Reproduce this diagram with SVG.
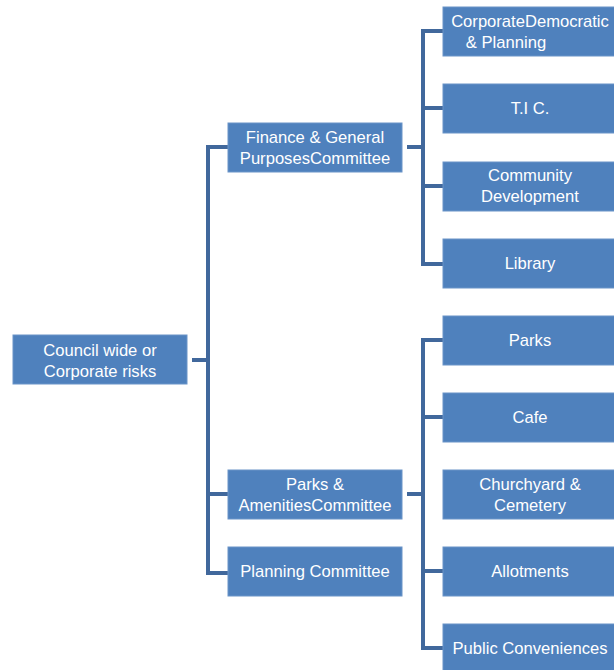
<svg xmlns="http://www.w3.org/2000/svg" width="614" height="670" viewBox="0 0 614 670">
<style>
.box{fill:#4F81BD;stroke:#6A94C8;stroke-width:1}
.t{font-family:"Liberation Sans",Arial,sans-serif;font-size:16.6px;fill:#FFFFFF;text-anchor:middle}
.c{fill:none;stroke:#41689C;stroke-width:4;stroke-linejoin:miter}
</style>
<rect width="614" height="670" fill="#FFFFFF"/>
<g id="connectors">
<path class="c" d="M192 360H208M228 147H208V573H228M208 494H228"/>
<path class="c" d="M407 147H423M443 31H423V264H443M423 108H443M423 186H443"/>
<path class="c" d="M407 494H423M443 340H423V648H443M423 417H443M423 571H443"/>
</g>
<g id="root"><rect class="box" x="13" y="335" width="174" height="49"/><text class="t" x="100" y="356">Council wide or</text><text class="t" x="100" y="377">Corporate risks</text></g>
<g id="finance"><rect class="box" x="228" y="123" width="174" height="49"/><text class="t" x="315" y="143">Finance &amp; General</text><text class="t" x="315" y="164">PurposesCommittee</text></g>
<g id="parks-amenities"><rect class="box" x="228" y="470" width="174" height="49"/><text class="t" x="315" y="490">Parks &amp;</text><text class="t" x="315" y="511">AmenitiesCommittee</text></g>
<g id="planning"><rect class="box" x="228" y="547" width="174" height="49"/><text class="t" x="315" y="577">Planning Committee</text></g>
<g id="corporate"><rect class="box" x="443" y="7" width="174" height="49"/><text class="t" x="530" y="27">CorporateDemocratic</text><text class="t" x="506" y="48">&amp; Planning</text></g>
<g id="tic"><rect class="box" x="443" y="84" width="174" height="49"/><text class="t" x="530" y="114">T.I C.</text></g>
<g id="community"><rect class="box" x="443" y="162" width="174" height="49"/><text class="t" x="530" y="181">Community</text><text class="t" x="530" y="202">Development</text></g>
<g id="library"><rect class="box" x="443" y="239" width="174" height="49"/><text class="t" x="530" y="269">Library</text></g>
<g id="parks"><rect class="box" x="443" y="316" width="174" height="49"/><text class="t" x="530" y="346">Parks</text></g>
<g id="cafe"><rect class="box" x="443" y="393" width="174" height="49"/><text class="t" x="530" y="423">Cafe</text></g>
<g id="churchyard"><rect class="box" x="443" y="470" width="174" height="49"/><text class="t" x="530" y="490">Churchyard &amp;</text><text class="t" x="530" y="511">Cemetery</text></g>
<g id="allotments"><rect class="box" x="443" y="547" width="174" height="49"/><text class="t" x="530" y="577">Allotments</text></g>
<g id="conveniences"><rect class="box" x="443" y="624" width="174" height="49"/><text class="t" x="530" y="654">Public Conveniences</text></g>
</svg>
